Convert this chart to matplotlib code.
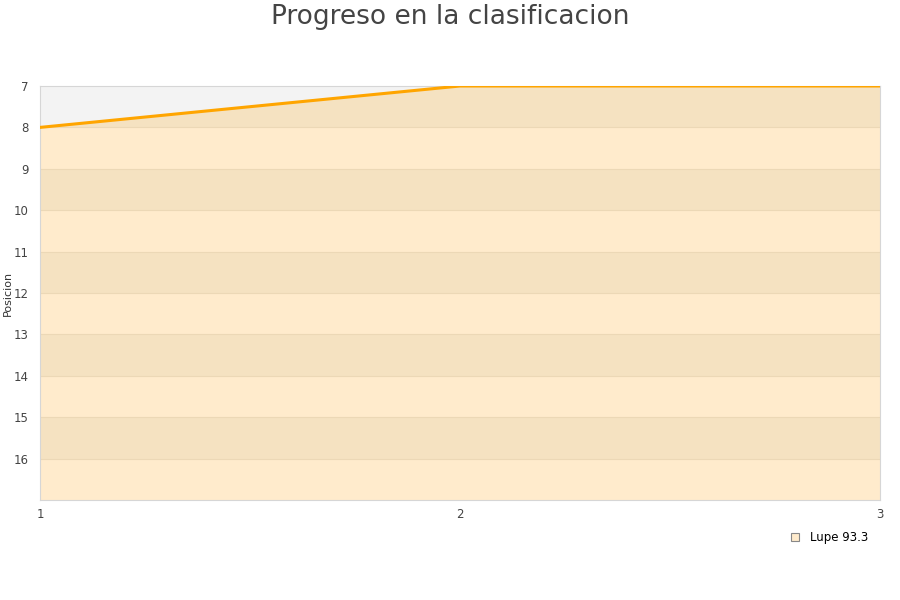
import matplotlib.pyplot as plt
from matplotlib.lines import Line2D

jornadas = [1, 2, 3]
posicion = [8, 7, 7]
jugador = 'Lupe 93.3'
y_ticks = list(range(7, 17))

fig = plt.figure(figsize=(9, 6), dpi=100)
ax = fig.add_axes([40 / 900, 100 / 600, 840 / 900, 414 / 600])
ax.set_facecolor('#f3f3f3')

# area under the line
poly = ax.fill_between(jornadas, posicion, 17, color='#ffebcc', lw=0, zorder=1)
clip = poly.get_paths()[0]
for y0 in range(7, 17, 2):
    band = ax.axhspan(y0, y0 + 1, color='#f5e2c1', lw=0, zorder=1.5)
    band.set_clip_path(clip, ax.transData)
for y in range(8, 17):
    ax.axhline(y, color='#ecd8b6', lw=0.8, zorder=1.6)

ax.plot(jornadas, posicion, color='#ffa500', lw=2.2, zorder=3)

ax.set_xlim(1, 3)
ax.set_ylim(17, 7)
ax.set_xticks(jornadas)
ax.set_yticks(y_ticks)
ax.tick_params(axis='x', length=0, labelsize=8.5, colors='#444444', pad=6)
ax.tick_params(axis='y', length=0, labelsize=8.5, colors='#444444', pad=8)
for s in ax.spines.values():
    s.set_color('#d6d6d6')
ax.set_ylabel('Posicion', fontsize=8, color='#333333')
ax.yaxis.set_label_coords(-27 / 840, 0.5)

fig.text(0.5, 0.972, 'Progreso en la clasificacion', ha='center', va='center',
         fontsize=19, color='#444444')

handle = Line2D([], [], marker='s', ls='', markersize=6,
                markerfacecolor='#ffebcc', markeredgecolor='#888888', markeredgewidth=0.8)
fig.legend([handle], [jugador], loc='center left', bbox_to_anchor=(783 / 900, 1 - 538 / 600),
           frameon=False, fontsize=8.5, handletextpad=0.3, borderaxespad=0, borderpad=0)

fig.savefig('out.png', dpi=100)
